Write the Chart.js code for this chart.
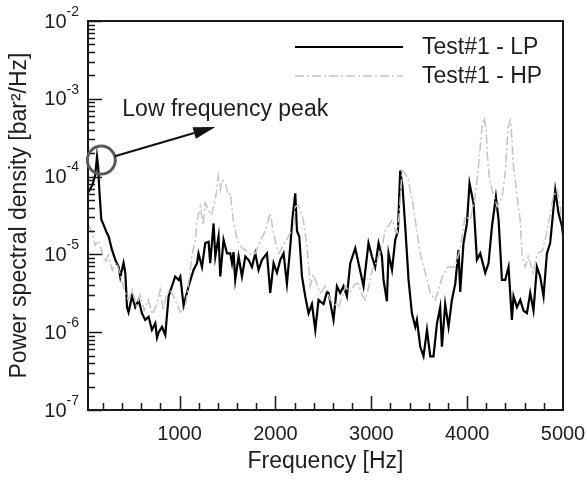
<!DOCTYPE html>
<html>
<head>
<meta charset="utf-8">
<script src="https://cdn.jsdelivr.net/npm/chart.js@4/dist/chart.umd.min.js"></script>
<style>
  html, body { margin: 0; padding: 0; background: #fff; }
  #wrap { width: 587px; height: 481px; }
</style>
</head>
<body>
<div id="wrap"><canvas id="psd"></canvas></div>
<script>
// ===============================
// Data
// ===============================
const freqLP = [48, 90, 121, 139, 152, 163, 184, 208, 236, 260, 295, 330, 364, 382, 416, 434, 452, 468, 504, 538,
  573, 608, 642, 677, 712, 747, 765, 783, 817, 851, 886, 921, 955, 990, 1008, 1042, 1094, 1146, 1182, 1198,
  1234, 1268, 1303, 1320, 1355, 1373, 1407, 1425, 1459, 1495, 1529, 1547, 1563, 1581, 1616, 1651, 1686, 1720, 1755, 1790,
  1824, 1860, 1912, 1946, 1981, 2016, 2051, 2085, 2120, 2155, 2179, 2207, 2225, 2249, 2277, 2311, 2346, 2381, 2416, 2450,
  2502, 2538, 2554, 2606, 2642, 2676, 2711, 2746, 2781, 2833, 2867, 2919, 2971, 3007, 3041, 3076, 3111, 3128, 3163, 3180,
  3216, 3250, 3278, 3302, 3326, 3354, 3389, 3424, 3459, 3476, 3511, 3545, 3581, 3615, 3649, 3685, 3719, 3737, 3771, 3806,
  3841, 3876, 3910, 3928, 3962, 3998, 4025, 4067, 4102, 4137, 4189, 4223, 4259, 4300, 4328, 4363, 4397, 4432, 4467, 4484,
  4519, 4554, 4588, 4624, 4658, 4692, 4728, 4762, 4797, 4832, 4866, 4919, 4953, 4989, 5000];
const psdLP = [6.3e-5, 7.8e-5, 1.05e-4, 1.8e-4, 1.3e-4, 6.8e-5, 2.8e-5, 2.4e-5, 1.95e-5, 1.7e-5, 1.15e-5, 8.5e-6, 6.9e-6, 5.1e-6, 7.8e-6, 5.8e-6, 2.1e-6, 1.8e-6, 2.9e-6, 2.1e-6,
  2.6e-6, 1.75e-6, 1.44e-6, 1.58e-6, 1.07e-6, 1.3e-6, 8.5e-7, 1.0e-6, 1.17e-6, 9.2e-7, 2.9e-6, 3.9e-6, 5.2e-6, 4.7e-6, 5.2e-6, 2.2e-6, 3.9e-6, 6.3e-6, 7.7e-6, 1.03e-5,
  6.9e-6, 1.4e-5, 1.45e-5, 7.7e-6, 2.5e-5, 9.4e-6, 1.7e-5, 5.2e-6, 1.54e-5, 1.03e-5, 1.03e-5, 7.7e-6, 1.07e-5, 4.7e-6, 9.4e-6, 5.2e-6, 9.4e-6, 8.5e-6, 6.9e-6, 1.03e-5,
  6.3e-6, 8.5e-6, 1.03e-5, 3.2e-6, 7.7e-6, 5.8e-6, 8.5e-6, 1.03e-5, 4.2e-6, 1.26e-5, 3.0e-5, 6.1e-5, 2.0e-5, 1.7e-5, 5.2e-6, 2.9e-6, 1.75e-6, 2.3e-6, 1.07e-6, 2.6e-6,
  2.3e-6, 3.3e-6, 3.2e-6, 1.44e-6, 3.9e-6, 3.2e-6, 3.9e-6, 2.9e-6, 7.7e-6, 1.2e-5, 7.7e-6, 3.9e-6, 1.4e-5, 9.4e-6, 6.9e-6, 1.4e-5, 9.4e-6, 4.7e-6, 2.5e-6, 1.03e-5,
  6.3e-6, 1.54e-5, 2.0e-5, 1.2e-4, 7.4e-5, 2.3e-5, 4.7e-6, 1.75e-6, 1.17e-6, 1.44e-6, 6.5e-7, 4.9e-7, 1.07e-6, 4.9e-7, 4.9e-7, 1.29e-6, 2.1e-6, 6.5e-7, 2.3e-6, 1.17e-6,
  2.6e-6, 4.2e-6, 1.14e-5, 3.3e-6, 1.4e-5, 2.5e-5, 8.2e-5, 4.5e-5, 8.5e-6, 1.03e-5, 5.8e-6, 7.7e-6, 2.3e-5, 5.5e-5, 2.8e-5, 4.7e-6, 4.7e-6, 6.9e-6, 1.44e-6, 2.9e-6,
  2.1e-6, 2.6e-6, 1.9e-6, 1.75e-6, 3.2e-6, 1.9e-6, 6.9e-6, 5.2e-6, 2.9e-6, 1.03e-5, 1.4e-5, 6.7e-5, 3.4e-5, 2.3e-5, 1.8e-5];

const freqHP = [48, 90, 121, 152, 184, 225, 257, 298, 340, 382, 423, 465, 507, 549, 590, 632, 674, 716, 757, 799,
  830, 861, 903, 955, 1008, 1060, 1091, 1133, 1164, 1185, 1216, 1247, 1268, 1300, 1331, 1373, 1404, 1425, 1445, 1477,
  1508, 1529, 1560, 1602, 1654, 1706, 1748, 1790, 1842, 1894, 1946, 1977, 2008, 2039, 2081, 2112, 2155, 2186, 2207, 2238,
  2259, 2290, 2332, 2363, 2395, 2416, 2468, 2520, 2572, 2655, 2697, 2728, 2781, 2833, 2864, 2906, 2937, 2979, 3010, 3041,
  3072, 3114, 3145, 3187, 3218, 3250, 3270, 3291, 3322, 3354, 3385, 3427, 3458, 3510, 3563, 3615, 3667, 3698, 3740, 3802,
  3876, 3928, 3980, 4032, 4084, 4115, 4136, 4157, 4178, 4199, 4209, 4230, 4261, 4313, 4365, 4397, 4428, 4449, 4459, 4480,
  4522, 4553, 4574, 4605, 4637, 4689, 4731, 4783, 4835, 4866, 4898, 4940, 4971, 4992];
const psdHP = [2.4e-5, 1.9e-5, 1.3e-5, 1.5e-5, 1.15e-5, 7.9e-6, 9.8e-6, 6.3e-6, 7.9e-6, 5.5e-6, 3.5e-6, 2.6e-6, 3.5e-6, 2.2e-6, 3.0e-6, 1.9e-6, 2.6e-6, 1.7e-6, 2.2e-6, 3.5e-6,
  1.9e-6, 3.0e-6, 3.5e-6, 2.6e-6, 1.8e-6, 2.1e-6, 4.0e-6, 1.03e-5, 1.5e-5, 2.8e-5, 4.1e-5, 2.4e-5, 4.6e-5, 3.7e-5, 3.2e-5, 5.0e-5, 1.0e-4, 6.7e-5, 9.0e-5, 8.3e-5,
  5.8e-5, 6.1e-5, 2.8e-5, 1.5e-5, 1.2e-5, 1.1e-5, 9.8e-6, 1.03e-5, 1.5e-5, 2.0e-5, 3.4e-5, 2.0e-5, 1.3e-5, 1.03e-5, 1.3e-5, 1.5e-5, 1.9e-5, 2.0e-5, 4.1e-5, 4.3e-5,
  3.7e-5, 2.8e-5, 1.2e-5, 3.9e-6, 5.5e-6, 4.7e-6, 3.2e-6, 3.9e-6, 2.6e-6, 2.1e-6, 2.8e-6, 3.9e-6, 3.3e-6, 4.2e-6, 4.2e-6, 3.0e-6, 2.6e-6, 4.0e-6, 6.3e-6, 7.3e-6,
  9.2e-6, 1.3e-5, 2.0e-5, 2.4e-5, 2.8e-5, 2.0e-5, 1.9e-5, 3.2e-5, 1.2e-4, 1.1e-4, 9.0e-5, 5.0e-5, 2.8e-5, 1.03e-5, 5.8e-6, 3.2e-6, 2.6e-6, 3.4e-6, 5.1e-6, 6.9e-6,
  6.9e-6, 1.2e-5, 3.1e-5, 2.8e-5, 5.5e-5, 1.2e-4, 2.4e-4, 4.6e-4, 5.7e-4, 4.0e-4, 2.0e-4, 1.0e-4, 6.7e-5, 4.1e-5, 5.5e-5, 1.1e-4, 4.3e-4, 5.3e-4, 4.6e-4, 1.5e-4,
  5.5e-5, 2.8e-5, 9.4e-6, 6.9e-6, 9.4e-6, 5.8e-6, 1.03e-5, 1.1e-5, 2.0e-5, 3.4e-5, 5.5e-5, 6.7e-5, 4.1e-5, 2.5e-5];

const seriesLabels = ["Test#1 - LP", "Test#1 - HP"];
const xMajorTicks = [1000, 2000, 3000, 4000, 5000];
const yExponents = [-2, -3, -4, -5, -6, -7];
const xTitle = "Frequency [Hz]";
const yTitle = "Power spectral density [bar\u00B2/Hz]";
const noteText = "Low frequency peak";
const notePeak = { x: 184, y: 1.63e-4 };   // circled point
const noteArrowTip = { x: 1373, y: 4.35e-4 };
const noteTextPos = { x: 403, y: 7.2e-4 };

// ===============================
// Styles
// ===============================
const FONT = "'Liberation Sans', Arial, Helvetica, sans-serif";
const TEXT = "#1e1e1e";
const LP_COLOR = "#000000";
const HP_COLOR = "#c4c4c4";
const HP_DASH = [9, 3, 2, 3];

function toPoints(xs, ys) {
	return xs.map((x, i) => ({ x: x, y: ys[i] }));
}

// ===============================
// Axes, ticks, legend, annotation
// ===============================
const decorations = {
	id: "decorations",
	afterDraw(chart) {
		const ctx = chart.ctx;
		const area = chart.chartArea;
		const xs = chart.scales.x;
		const ys = chart.scales.y;
		ctx.save();

		// frame
		ctx.strokeStyle = "#1a1a1a";
		ctx.lineWidth = 2;
		ctx.strokeRect(area.left, area.top, area.right - area.left, area.bottom - area.top);

		// x ticks (inside, minor every 200)
		ctx.lineWidth = 1.5;
		ctx.beginPath();
		for (let v = 200; v < 5000; v += 200) {
			const px = Math.round(xs.getPixelForValue(v)) + 0.5;
			const len = v % 1000 === 0 ? 14 : 7;
			ctx.moveTo(px, area.bottom);
			ctx.lineTo(px, area.bottom - len);
		}
		// y ticks (log, inside)
		for (let e = -7; e <= -2; e++) {
			for (let m = 1; m <= 9; m++) {
				if (e === -2 && m > 1) break;
				const py = Math.round(ys.getPixelForValue(m * Math.pow(10, e))) + 0.5;
				const len = m === 1 ? 14 : 7;
				ctx.moveTo(area.left, py);
				ctx.lineTo(area.left + len, py);
			}
		}
		ctx.stroke();

		// x tick labels
		ctx.fillStyle = TEXT;
		ctx.font = "20px " + FONT;
		ctx.textAlign = "center";
		ctx.textBaseline = "middle";
		xMajorTicks.forEach(v => {
			ctx.fillText(String(v), xs.getPixelForValue(v), area.bottom + 24);
		});

		// y tick labels 10^e
		yExponents.forEach(e => {
			const py = ys.getPixelForValue(Math.pow(10, e));
			const sup = String(e);
			ctx.font = "14px " + FONT;
			const supW = ctx.measureText(sup).width;
			const right = area.left - 9;
			ctx.textAlign = "left";
			ctx.fillText(sup, right - supW, py - 9);
			ctx.font = "20px " + FONT;
			ctx.textAlign = "right";
			ctx.fillText("10", right - supW, py + 1);
		});

		// axis titles
		ctx.font = "23px " + FONT;
		ctx.textAlign = "center";
		ctx.fillText(xTitle, (area.left + area.right) / 2, area.bottom + 52);
		ctx.save();
		ctx.translate(20, (area.top + area.bottom) / 2);
		ctx.rotate(-Math.PI / 2);
		ctx.fillText(yTitle, 0, 0);
		ctx.restore();

		// legend
		const legY = [area.top + 26, area.top + 55];
		const legX0 = area.left + 207, legX1 = area.left + 315, legT = area.left + 334;
		ctx.lineWidth = 2;
		ctx.strokeStyle = LP_COLOR;
		ctx.beginPath();
		ctx.moveTo(legX0, legY[0]);
		ctx.lineTo(legX1, legY[0]);
		ctx.stroke();
		ctx.strokeStyle = HP_COLOR;
		ctx.lineWidth = 1.5;
		ctx.setLineDash(HP_DASH);
		ctx.beginPath();
		ctx.moveTo(legX0, legY[1]);
		ctx.lineTo(legX1, legY[1]);
		ctx.stroke();
		ctx.setLineDash([]);
		ctx.font = "23px " + FONT;
		ctx.textAlign = "left";
		ctx.fillText(seriesLabels[0], legT, legY[0] + 1);
		ctx.fillText(seriesLabels[1], legT, legY[1] + 1);

		// annotation: circle + arrow + text
		const cx = xs.getPixelForValue(notePeak.x), cy = ys.getPixelForValue(notePeak.y);
		const tx = xs.getPixelForValue(noteArrowTip.x), ty = ys.getPixelForValue(noteArrowTip.y);
		const r = 14;
		ctx.strokeStyle = "#5a5a5a";
		ctx.lineWidth = 3;
		ctx.beginPath();
		ctx.arc(cx, cy, r, 0, Math.PI * 2);
		ctx.stroke();

		const ang = Math.atan2(ty - cy, tx - cx);
		const sx = cx + Math.cos(ang) * r, sy = cy + Math.sin(ang) * r;
		const headLen = 22, headW = 6;
		const bx = tx - Math.cos(ang) * headLen, by = ty - Math.sin(ang) * headLen;
		ctx.strokeStyle = "#111";
		ctx.lineWidth = 2;
		ctx.beginPath();
		ctx.moveTo(sx, sy);
		ctx.lineTo(bx, by);
		ctx.stroke();
		ctx.fillStyle = "#111";
		ctx.beginPath();
		ctx.moveTo(tx, ty);
		ctx.lineTo(bx + Math.sin(ang) * headW, by - Math.cos(ang) * headW);
		ctx.lineTo(bx - Math.sin(ang) * headW, by + Math.cos(ang) * headW);
		ctx.closePath();
		ctx.fill();

		ctx.fillStyle = TEXT;
		ctx.font = "23px " + FONT;
		ctx.textAlign = "left";
		ctx.fillText(noteText, xs.getPixelForValue(noteTextPos.x), ys.getPixelForValue(noteTextPos.y));

		ctx.restore();
	}
};

// ===============================
// Chart
// ===============================
new Chart(document.getElementById("psd"), {
	type: "line",
	data: {
		datasets: [
			{
				label: seriesLabels[1],
				data: toPoints(freqHP, psdHP),
				borderColor: HP_COLOR,
				borderWidth: 1.5,
				borderDash: HP_DASH,
				pointRadius: 0,
				tension: 0
			},
			{
				label: seriesLabels[0],
				data: toPoints(freqLP, psdLP),
				borderColor: LP_COLOR,
				borderWidth: 2.2,
				pointRadius: 0,
				tension: 0
			}
		]
	},
	options: {
		responsive: true,
		maintainAspectRatio: false,
		animation: false,
		layout: { padding: { top: 21, right: 24, left: 0, bottom: 0 } },
		plugins: {
			legend: { display: false },
			tooltip: { enabled: false }
		},
		scales: {
			x: {
				type: "linear",
				min: 45,
				max: 5000,
				grid: { display: false },
				border: { display: false },
				ticks: { display: false },
				afterFit: (scale) => { scale.height = 71; }
			},
			y: {
				type: "logarithmic",
				min: 1e-7,
				max: 1e-2,
				grid: { display: false },
				border: { display: false },
				ticks: { display: false },
				afterFit: (scale) => { scale.width = 88; }
			}
		}
	},
	plugins: [decorations]
});
</script>
</body>
</html>
